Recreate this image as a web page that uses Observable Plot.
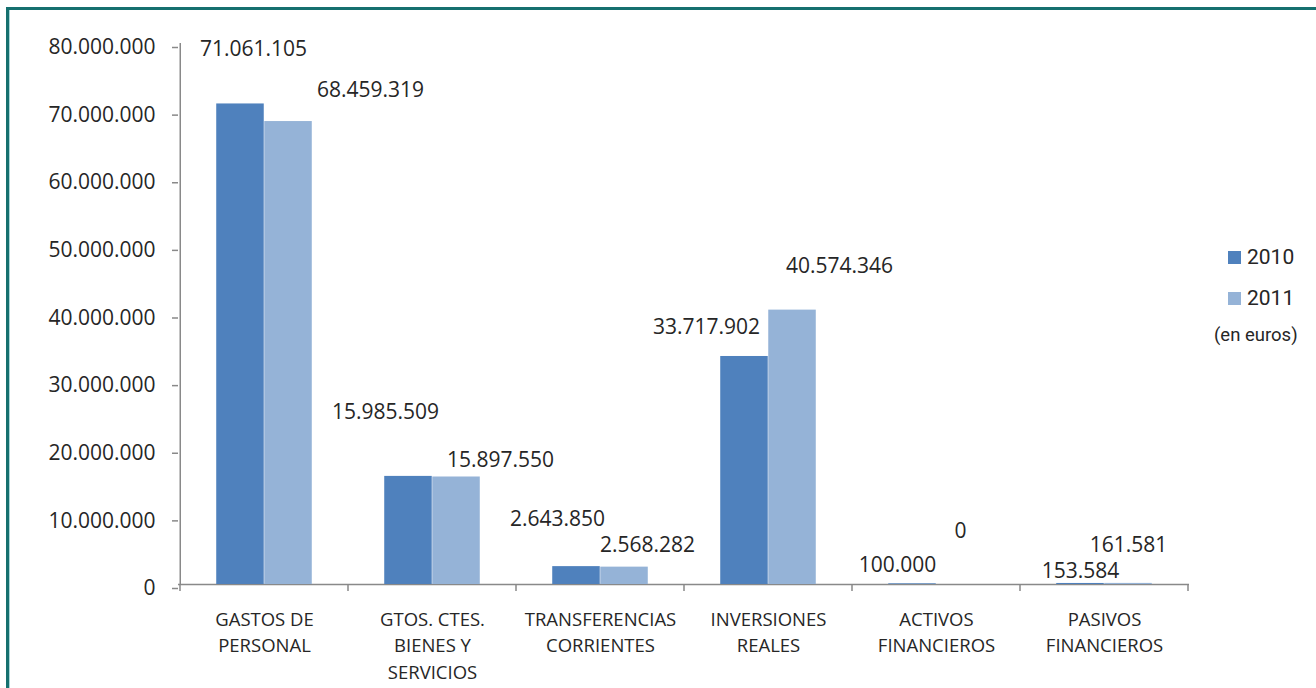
<!DOCTYPE html>
<html>
<head>
<meta charset="utf-8">
<script src="https://cdn.jsdelivr.net/npm/d3@7"></script>
<script src="https://cdn.jsdelivr.net/npm/@observablehq/plot@0.6"></script>
<style>
  html, body { margin: 0; padding: 0; background: #fff; }
  body { width: 1316px; height: 688px; position: relative; overflow: hidden; font-family: "Open Sans", sans-serif; }
  #frame { position: absolute; left: 6px; top: 7px; width: 1400px; height: 800px; border-top: 3px solid #15706f; border-left: 3px solid #15706f; }
  #frame-inner { position: absolute; left: 0; top: 0; width: 1px; height: 100%; background: #a9d6d7; }
  #chart { position: absolute; left: 0; top: 0; }
  .leg { position: absolute; font-family: Roboto, sans-serif; color: #262626; white-space: nowrap; }
  .sw { position: absolute; width: 13px; height: 13px; }
</style>
</head>
<body>
<div id="frame"><div id="frame-inner"></div></div>
<div id="chart"></div>
<script>
// ---- data ----
const categories = [
  "GASTOS DE\nPERSONAL",
  "GTOS. CTES.\nBIENES Y\nSERVICIOS",
  "TRANSFERENCIAS\nCORRIENTES",
  "INVERSIONES\nREALES",
  "ACTIVOS\nFINANCIEROS",
  "PASIVOS\nFINANCIEROS"
];
const years = ["2010", "2011"];
const values2010 = [71061105, 15985509, 2643850, 33717902, 100000, 153584];
const values2011 = [68459319, 15897550, 2568282, 40574346, 0, 161581];
const yTicks = [0, 10000000, 20000000, 30000000, 40000000, 50000000, 60000000, 70000000, 80000000];
const unitNote = "(en euros)";

// ---- styling / layout ----
const colors = ["#4f81bd", "#95b3d7"];
const W = 1316, H = 688, mL = 178, mR = 127, mT = 43, mB = 104;
const step = (W - mL - mR) / categories.length;
const axisColor = "#898989";
const textColor = "#262626";
// manual label nudges (pixels) as in the original, per category: [2010, 2011]
const labelNudge = [
  [[-11, -55], [106, -31]],
  [[-47, -64], [68, -17]],
  [[-43, -47], [47, -22]],
  [[-62, -29], [71, -44]],
  [[-39, -19], [24, -53]],
  [[-24, -12], [24, -38]]
];

const series = [values2010, values2011];
const rows = categories.flatMap((c, i) => years.map((yr, j) => ({category: c, year: yr, value: series[j][i], i, j})));

const loc = d3.formatLocale({decimal: ",", thousands: ".", grouping: [3], currency: ["", ""]});
const fmt = loc.format(",d");

const barSpan = [[0.215, 0.5], [0.5, 0.785]];

const marks = [
  Plot.ruleY([0], {stroke: axisColor, strokeWidth: 1.5}),
  Plot.ruleX([categories[0]], {x: d => d, dx: -step / 2, stroke: axisColor, strokeWidth: 1.5}),
  ...years.map((yr, j) => Plot.barY(rows.filter(r => r.j === j), {
    x: "category", y: "value", fill: colors[j],
    insetLeft: step * barSpan[j][0], insetRight: step * (1 - barSpan[j][1])
  })),
  Plot.axisY({ticks: yTicks, tickSize: 6, tickPadding: 17, tickFormat: fmt, fontSize: 21, dy: 4,
    stroke: axisColor, fill: textColor, strokeWidth: 1.5, label: null}),
  Plot.axisX({tickSize: 0, tickPadding: 23, fontSize: 18.5, lineHeight: 1.42, fill: textColor, label: null}),
  ...rows.map(r => Plot.text([r], {
    x: "category", y: "value", text: d => fmt(d.value),
    dx: labelNudge[r.i][r.j][0], dy: labelNudge[r.i][r.j][1],
    fontSize: 21, fill: textColor
  }))
];

const chart = Plot.plot({
  width: W, height: H,
  marginLeft: mL, marginRight: mR, marginTop: mT, marginBottom: mB,
  style: {fontFamily: "'Open Sans', sans-serif", background: "transparent", overflow: "visible"},
  x: {domain: categories, padding: 0, axis: null, label: null},
  y: {domain: [0, 80000000], axis: null, label: null},
  marks
});

// boundary tick marks on the category axis, placed through the x scale
const xs = chart.scale("x");
const ys = chart.scale("y");
const bounds = categories.map(c => xs.apply(c)).concat([xs.apply(categories[categories.length - 1]) + xs.bandwidth]);
const y0 = ys.apply(0);
d3.select(chart).append("g").selectAll("line").data(bounds).join("line")
  .attr("x1", d => d).attr("x2", d => d)
  .attr("y1", y0).attr("y2", y0 + 7)
  .attr("stroke", axisColor).attr("stroke-width", 1.5);

document.getElementById("chart").appendChild(chart);

// legend
const legendTops = [251, 292];
years.forEach((yr, j) => {
  const sw = document.createElement("div");
  sw.className = "sw";
  sw.style.left = "1228px";
  sw.style.top = legendTops[j] + "px";
  sw.style.background = colors[j];
  document.body.appendChild(sw);
  const t = document.createElement("div");
  t.className = "leg";
  t.style.left = "1247px";
  t.style.top = (legendTops[j] - 7) + "px";
  t.style.fontSize = "21px";
  t.style.lineHeight = "26px";
  t.textContent = yr;
  document.body.appendChild(t);
});
const note = document.createElement("div");
note.className = "leg";
note.style.left = "1214px";
note.style.top = "322px";
note.style.fontSize = "18.5px";
note.style.lineHeight = "26px";
note.textContent = unitNote;
document.body.appendChild(note);
</script>
</body>
</html>
